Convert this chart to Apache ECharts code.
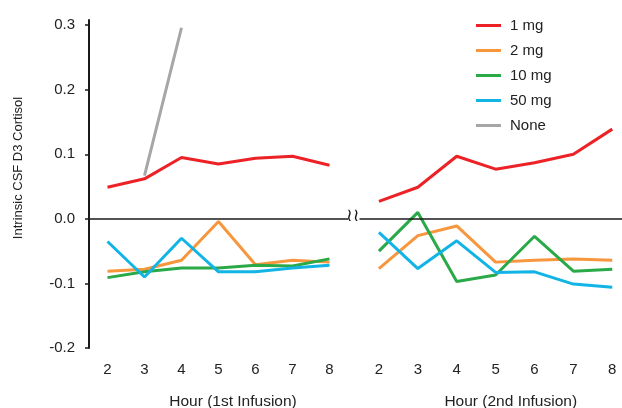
<!DOCTYPE html>
<html>
<head>
<meta charset="utf-8">
<script src="https://cdn.jsdelivr.net/npm/echarts@6/dist/echarts.min.js"></script>
<style>html,body{margin:0;padding:0;background:#fff}#c{width:622px;height:408px}</style>
</head>
<body>
<div id="c"></div>
<script>
var hours = [2, 3, 4, 5, 6, 7, 8];
var yTicks = [-0.2, -0.1, 0.0, 0.1, 0.2, 0.3];
// 1st infusion
var first_1mg  = [0.049, 0.062, 0.095, 0.085, 0.094, 0.097, 0.083];
var first_2mg  = [-0.081, -0.078, -0.064, -0.004, -0.071, -0.064, -0.067];
var first_10mg = [-0.091, -0.082, -0.076, -0.076, -0.072, -0.073, -0.062];
var first_50mg = [-0.035, -0.090, -0.030, -0.082, -0.082, -0.076, -0.072];
var first_none = [null, 0.067, 0.296, null, null, null, null];
// 2nd infusion
var second_1mg  = [0.027, 0.049, 0.097, 0.077, 0.087, 0.100, 0.139];
var second_2mg  = [-0.077, -0.026, -0.011, -0.067, -0.064, -0.062, -0.064];
var second_10mg = [-0.050, 0.010, -0.097, -0.087, -0.027, -0.081, -0.078];
var second_50mg = [-0.021, -0.077, -0.034, -0.083, -0.082, -0.101, -0.106];

var names = ['1 mg', '2 mg', '10 mg', '50 mg', 'None'];
var colors = ['#ec2227', '#f7963c', '#2aa948', '#12b4e6', '#a6a6a8'];
var firstSets = [first_1mg, first_2mg, first_10mg, first_50mg, first_none];
var secondSets = [second_1mg, second_2mg, second_10mg, second_50mg];

function pairs(arr) { return hours.map(function (h, i) { return [h, arr[i]]; }); }

var font = 'Liberation Sans, Arial, Helvetica, sans-serif';
var zeroLine = { silent: true, symbol: ['none', 'none'], label: { show: false },
  lineStyle: { color: '#1a1a1a', width: 1.5, type: 'solid' }, data: [{ yAxis: 0 }] };
var series = [];
firstSets.forEach(function (d, i) {
  series.push({
    name: names[i], type: 'line', xAxisIndex: 0, yAxisIndex: 0,
    data: pairs(d), symbol: 'none', connectNulls: false,
    lineStyle: { color: colors[i], width: 3 }, itemStyle: { color: colors[i] },
    z: 3, markLine: i === 0 ? zeroLine : undefined
  });
});
secondSets.forEach(function (d, i) {
  series.push({
    name: names[i], type: 'line', xAxisIndex: 1, yAxisIndex: 1,
    data: pairs(d), symbol: 'none',
    lineStyle: { color: colors[i], width: 3 }, itemStyle: { color: colors[i] },
    z: 3, markLine: i === 0 ? zeroLine : undefined
  });
});

function xAxis(idx, min, max, name, pad) {
  return {
    type: 'value', gridIndex: idx, min: min, max: max,
    axisLine: { show: false }, axisTick: { show: false }, splitLine: { show: false },
    axisLabel: { customValues: hours, color: '#222', fontSize: 15, fontFamily: font, margin: 14 },
    name: name, nameLocation: 'middle', nameGap: 46,
    nameTextStyle: { color: '#222', fontSize: 15.5, fontFamily: font, padding: [0, 0, 0, pad] }
  };
}

var chart = echarts.init(document.getElementById('c'));
chart.setOption({
  animation: false,
  backgroundColor: '#fff',
  grid: [
    { left: 89, top: 20, width: 259, height: 328, outerBoundsMode: 'none', containLabel: false },
    { left: 359.5, top: 20, width: 262.5, height: 328, outerBoundsMode: 'none', containLabel: false }
  ],
  xAxis: [
    xAxis(0, 1.5, 8.5, 'Hour (1st Infusion)', 29),
    xAxis(1, 1.5, 8.25, 'Hour (2nd Infusion)', 40)
  ],
  yAxis: [
    {
      type: 'value', gridIndex: 0, min: -0.2, max: 0.308,
      axisLine: { show: true, lineStyle: { color: '#1a1a1a', width: 2 } },
      axisTick: { show: true, customValues: yTicks, inside: false, length: 4, lineStyle: { color: '#1a1a1a', width: 1.5 } },
      splitLine: { show: false },
      axisLabel: { customValues: yTicks, color: '#222', fontSize: 15, fontFamily: font, margin: 14,
        formatter: function (v) { return v.toFixed(1); } },
      name: 'Intrinsic CSF D3 Cortisol', nameLocation: 'middle', nameGap: 64,
      nameTextStyle: { color: '#222', fontSize: 13, fontFamily: font, padding: [0, 0, 0, 32] }
    },
    {
      type: 'value', gridIndex: 1, min: -0.2, max: 0.308, show: false
    }
  ],
  legend: {
    orient: 'vertical', left: 476, top: 18, padding: 0,
    data: names, icon: 'rect', itemWidth: 25, itemHeight: 3, itemGap: 10,
    textStyle: { color: '#222', fontSize: 15, fontFamily: font, padding: [0, 0, 0, 4] },
    selectedMode: false
  },
  graphic: [
    { type: 'text', left: 346, top: 207, style: { text: '\u2240\u2240', font: '18px DejaVu Sans', fill: '#1a1a1a' } }
  ],
  series: series
});
</script>
</body>
</html>
